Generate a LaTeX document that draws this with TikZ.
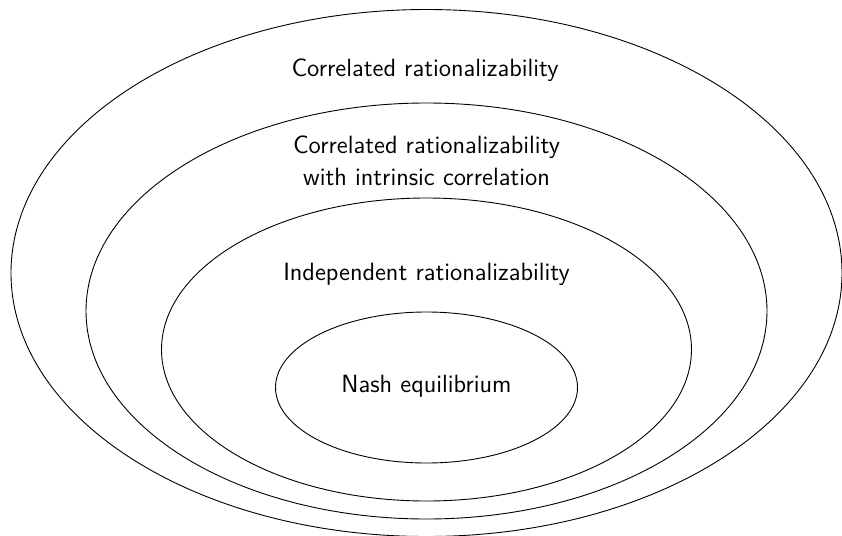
\documentclass[tikz,border=0pt]{standalone}
\usetikzlibrary{shapes.geometric}

\begin{document}
\begin{tikzpicture}[%
    x=0.5pt, y=-0.5pt,
    set/.style = {draw, ellipse, inner sep=0pt, line width=0.45pt},
    every node/.append style = {font=\sffamily\fontsize{12.5}{16}\selectfont}
]
\useasboundingbox (0,0) rectangle (842,536);
\foreach \n/\y/\w/\h in {corr/273/415.5/263.5, intr/311/340.5/208,
        indep/349.5/265/151.5, nash/387.5/151/75.5} {
    \node (\n) [set, minimum width=\w pt, minimum height=\h pt] at (426.5,\y) {};
}
\node (lcorr) [anchor=base] at (425,76) {Correlated rationalizability};
\node (lintr) [anchor=base, align=center] at (426.5,185.5)
    {Correlated rationalizability\\with intrinsic correlation};
\node (lindep) [anchor=base] at (426.5,280) {Independent rationalizability};
\node (lnash) [anchor=base] at (426.5,392.7) {Nash equilibrium};
\end{tikzpicture}
\end{document}
